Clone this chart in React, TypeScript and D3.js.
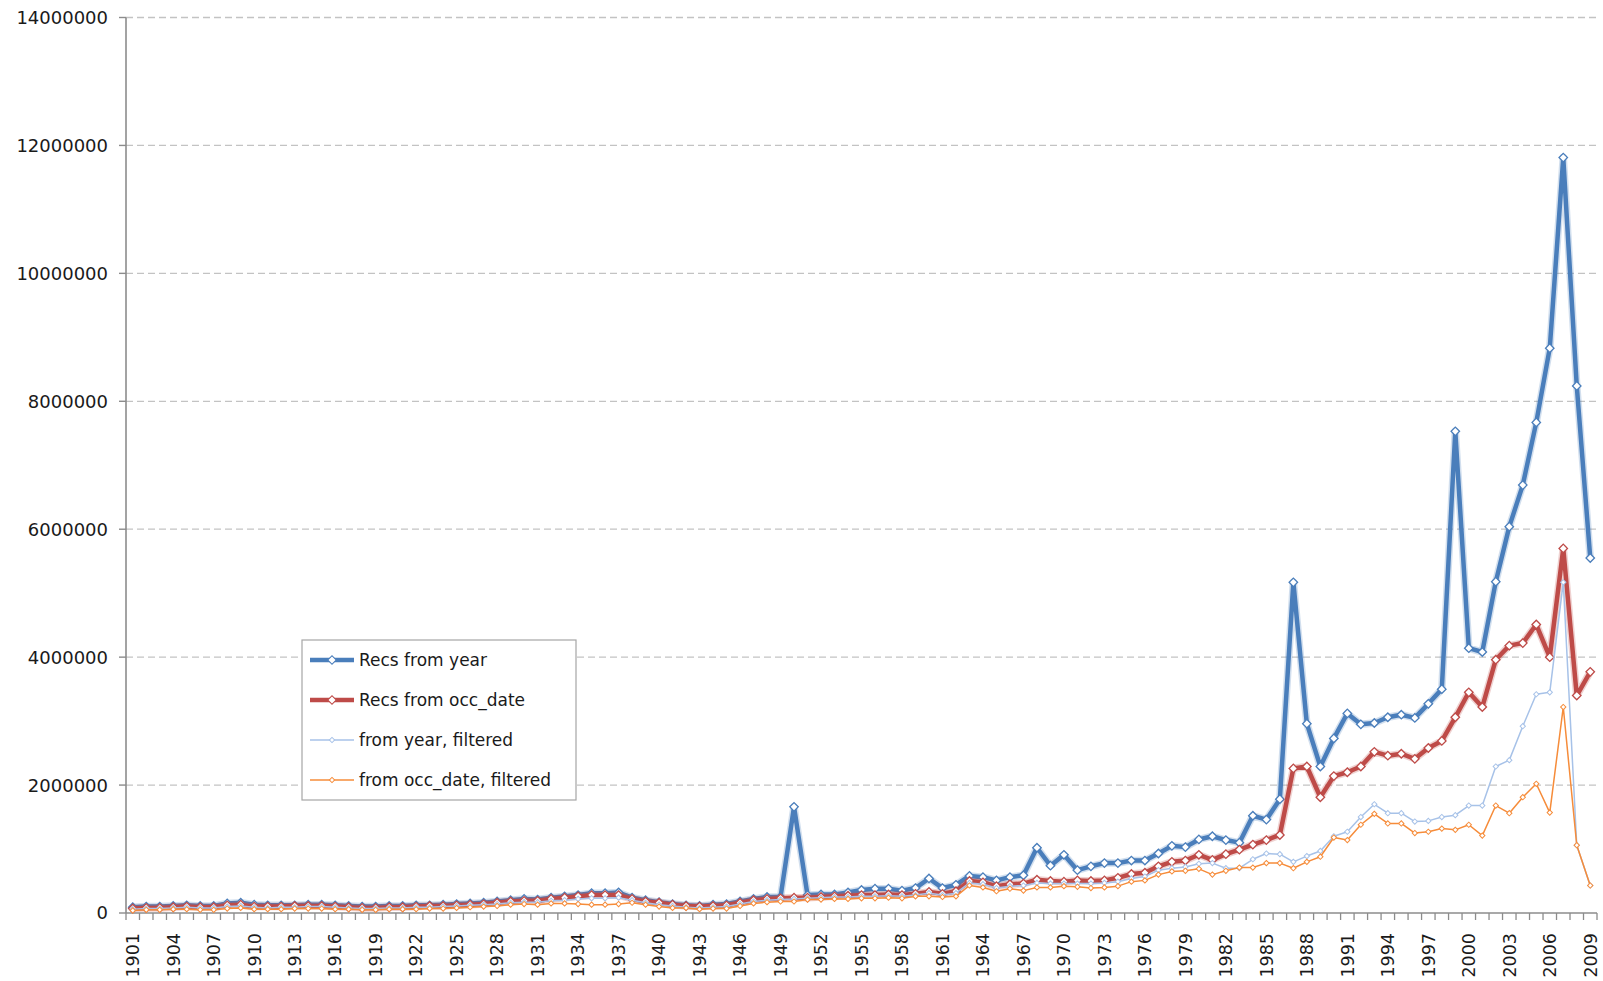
import React from 'react';
import * as d3 from 'd3';

// years 1901..2009
const years: number[] = d3.range(1901, 2010);

// values in millions
const recsFromYear = [
  0.09, 0.10, 0.10, 0.11, 0.12, 0.11, 0.11, 0.15, 0.16, 0.13, 0.12, 0.12, 0.12, 0.13, 0.13, 0.12, 0.11,
  0.10, 0.10, 0.11, 0.11, 0.12, 0.12, 0.13, 0.14, 0.15, 0.16, 0.18, 0.20, 0.22, 0.21, 0.24, 0.26,
  0.28, 0.31, 0.31, 0.32, 0.24, 0.20, 0.17, 0.14, 0.12, 0.11, 0.13, 0.14, 0.18, 0.22, 0.25, 0.25, 1.66,
  0.28, 0.29, 0.29, 0.32, 0.36, 0.38, 0.38, 0.35, 0.39, 0.54, 0.39, 0.44, 0.58, 0.56, 0.51, 0.56, 0.59,
  1.02, 0.74, 0.91,
  0.67, 0.73, 0.78, 0.78, 0.82, 0.82, 0.93, 1.05, 1.03, 1.15, 1.20, 1.14, 1.10, 1.52, 1.46, 1.78, 5.17,
  2.96, 2.29, 2.73,
  3.12, 2.95, 2.97, 3.06, 3.10, 3.05, 3.27, 3.50, 7.53, 4.14, 4.08, 5.18, 6.04, 6.69, 7.67, 8.83, 11.81,
  8.24, 5.55,
];

const recsFromOccDate = [
  0.07, 0.08, 0.08, 0.09, 0.10, 0.09, 0.09, 0.12, 0.13, 0.10, 0.10, 0.10, 0.11, 0.11, 0.11, 0.10, 0.09,
  0.08, 0.08, 0.09, 0.09, 0.10, 0.11, 0.11, 0.12, 0.13, 0.14, 0.16, 0.18, 0.19, 0.19, 0.22, 0.24,
  0.26, 0.28, 0.28, 0.28, 0.22, 0.18, 0.16, 0.13, 0.11, 0.10, 0.11, 0.12, 0.16, 0.20, 0.22, 0.23, 0.24,
  0.24, 0.25, 0.26, 0.27, 0.28, 0.28, 0.29, 0.28, 0.30, 0.33, 0.30, 0.34, 0.50, 0.48, 0.42, 0.45, 0.46,
  0.52, 0.50, 0.49,
  0.51, 0.50, 0.51, 0.55, 0.61, 0.63, 0.73, 0.80, 0.82, 0.91, 0.83, 0.92, 0.99, 1.07, 1.14, 1.22, 2.26,
  2.29, 1.81, 2.14,
  2.20, 2.29, 2.52, 2.46, 2.49, 2.41, 2.58, 2.69, 3.06, 3.45, 3.22, 3.96, 4.18, 4.22, 4.51, 4.00, 5.70,
  3.40, 3.77,
];

const fromYearFiltered = [
  0.06, 0.07, 0.07, 0.08, 0.09, 0.08, 0.08, 0.10, 0.11, 0.09, 0.08, 0.09, 0.09, 0.10, 0.10, 0.09, 0.08,
  0.07, 0.07, 0.08, 0.08, 0.09, 0.09, 0.10, 0.11, 0.12, 0.13, 0.14, 0.16, 0.17, 0.17, 0.19, 0.20,
  0.22, 0.23, 0.23, 0.24, 0.20, 0.16, 0.13, 0.11, 0.09, 0.08, 0.09, 0.10, 0.14, 0.18, 0.20, 0.21, 0.22,
  0.23, 0.24, 0.25, 0.25, 0.26, 0.26, 0.27, 0.26, 0.28, 0.31, 0.28, 0.31, 0.47, 0.45, 0.39, 0.42, 0.43,
  0.47, 0.46, 0.46,
  0.46, 0.46, 0.47, 0.49, 0.54, 0.57, 0.67, 0.70, 0.72, 0.77, 0.78, 0.70, 0.70, 0.84, 0.93, 0.92, 0.80,
  0.89, 0.97, 1.20,
  1.27, 1.50, 1.70, 1.56, 1.56, 1.43, 1.44, 1.50, 1.53, 1.68, 1.68, 2.29, 2.39, 2.92, 3.42, 3.45, 5.17,
  1.06, 0.43,
];

const fromOccDateFiltered = [
  0.04, 0.05, 0.05, 0.06, 0.06, 0.05, 0.05, 0.07, 0.08, 0.06, 0.06, 0.06, 0.07, 0.07, 0.07, 0.06, 0.06,
  0.05, 0.05, 0.06, 0.06, 0.06, 0.07, 0.07, 0.08, 0.09, 0.10, 0.11, 0.13, 0.14, 0.13, 0.15, 0.15,
  0.14, 0.13, 0.13, 0.14, 0.16, 0.13, 0.10, 0.08, 0.08, 0.06, 0.07, 0.07, 0.11, 0.15, 0.17, 0.18, 0.18,
  0.21, 0.21, 0.22, 0.22, 0.23, 0.23, 0.24, 0.23, 0.26, 0.26, 0.25, 0.26, 0.43, 0.40, 0.34, 0.38, 0.35,
  0.40, 0.40, 0.42,
  0.41, 0.39, 0.40, 0.42, 0.49, 0.51, 0.60, 0.65, 0.66, 0.69, 0.60, 0.66, 0.71, 0.71, 0.78, 0.78, 0.70,
  0.80, 0.88, 1.18,
  1.14, 1.38, 1.55, 1.40, 1.40, 1.25, 1.27, 1.32, 1.30, 1.38, 1.21, 1.68, 1.56, 1.81, 2.02, 1.57, 3.22,
  1.06, 0.43,
];

const seriesNames = ['Recs from year', 'Recs from occ_date', 'from year, filtered', 'from occ_date, filtered'];
const yTicks = [0, 2000000, 4000000, 6000000, 8000000, 10000000, 12000000, 14000000];

const W = 1603;
const H = 981;
const plot = { left: 126, right: 1597, top: 17.5, bottom: 913 };
const FONT = '"DejaVu Sans", sans-serif';

const App: React.FC = () => {
  const x = d3.scaleBand<number>().domain(years).range([plot.left, plot.right]).padding(0);
  const y = d3.scaleLinear().domain([0, 14000000]).range([plot.bottom, plot.top]);
  const cx = (yr: number) => (x(yr) as number) + x.bandwidth() / 2;

  const series = [
    { name: seriesNames[0], values: recsFromYear, color: '#4a7ebb', width: 4.5, marker: 36, glow: true },
    { name: seriesNames[1], values: recsFromOccDate, color: '#be4b48', width: 4.5, marker: 36, glow: true },
    { name: seriesNames[2], values: fromYearFiltered, color: '#a7c2e8', width: 1.5, marker: 14, glow: false },
    { name: seriesNames[3], values: fromOccDateFiltered, color: '#f68c3a', width: 1.5, marker: 14, glow: false },
  ];

  const line = d3.line<number>()
    .x((_, i) => cx(years[i]))
    .y(d => y(d * 1e6));

  const xLabelYears = years.filter((_, i) => i % 3 === 0);
  const boundaries = d3.range(years.length + 1).map(i => plot.left + i * x.bandwidth());

  // legend
  const lg = { x: 302, y: 640, w: 274, h: 160 };

  return (
    <svg width={W} height={H} style={{ position: 'absolute', left: 0, top: 0, display: 'block', background: '#fff' }}>
      {/* grid */}
      {yTicks.filter(t => t > 0).map(t => (
        <line key={t} x1={plot.left} x2={plot.right} y1={y(t)} y2={y(t)}
          stroke="#c3c3c3" strokeWidth={1.3} strokeDasharray="7,4" />
      ))}

      {/* y axis */}
      <line x1={plot.left} x2={plot.left} y1={plot.top} y2={plot.bottom} stroke="#8c8c8c" strokeWidth={1.6} />
      {yTicks.map(t => (
        <g key={t}>
          <line x1={plot.left - 7} x2={plot.left} y1={y(t)} y2={y(t)} stroke="#8c8c8c" strokeWidth={1.4} />
          <text x={108} y={y(t)} dy="0.36em" textAnchor="end" fontFamily={FONT} fontSize={18} fill="#1a1a1a">{t}</text>
        </g>
      ))}

      {/* x axis */}
      <line x1={plot.left} x2={plot.right} y1={plot.bottom} y2={plot.bottom} stroke="#8c8c8c" strokeWidth={1.6} />
      {boundaries.map((b, i) => (
        <line key={i} x1={b} x2={b} y1={plot.bottom} y2={plot.bottom + 7} stroke="#8c8c8c" strokeWidth={1.3} />
      ))}
      {xLabelYears.map(yr => (
        <text key={yr} transform={`translate(${cx(yr)},${plot.bottom + 20}) rotate(-90)`}
          dy="0.36em" textAnchor="end" fontFamily={FONT} fontSize={17.5} fill="#1a1a1a">{yr}</text>
      ))}

      {/* series */}
      {series.map(s => (
        <g key={s.name}>
          {s.glow && (
            <path d={line(s.values) || ''} fill="none" stroke={s.color} strokeOpacity={0.25}
              strokeWidth={s.width + 3} strokeLinejoin="round" />
          )}
          <path d={line(s.values) || ''} fill="none" stroke={s.color} strokeWidth={s.width} strokeLinejoin="round" />
          {s.values.map((v, i) => (
            <path key={i} d={d3.symbol(d3.symbolSquare, s.marker)() || ''}
              transform={`translate(${cx(years[i])},${y(v * 1e6)}) rotate(45)`}
              fill="#fff" stroke={s.color} strokeWidth={s.glow ? 1.3 : 1} />
          ))}
        </g>
      ))}

      {/* legend */}
      <rect x={lg.x} y={lg.y} width={lg.w} height={lg.h} fill="#fff" stroke="#a6a6a6" strokeWidth={1.2} />
      {series.map((s, i) => {
        const ry = lg.y + 20 + i * 40;
        return (
          <g key={s.name}>
            <line x1={lg.x + 8} x2={lg.x + 52} y1={ry} y2={ry} stroke={s.color} strokeWidth={s.width} />
            <path d={d3.symbol(d3.symbolSquare, s.marker)() || ''} transform={`translate(${lg.x + 30},${ry}) rotate(45)`}
              fill="#fff" stroke={s.color} strokeWidth={1} />
            <text x={lg.x + 57} y={ry} dy="0.36em" fontFamily={FONT} fontSize={17} fill="#1a1a1a">{s.name}</text>
          </g>
        );
      })}
    </svg>
  );
};

export default App;
